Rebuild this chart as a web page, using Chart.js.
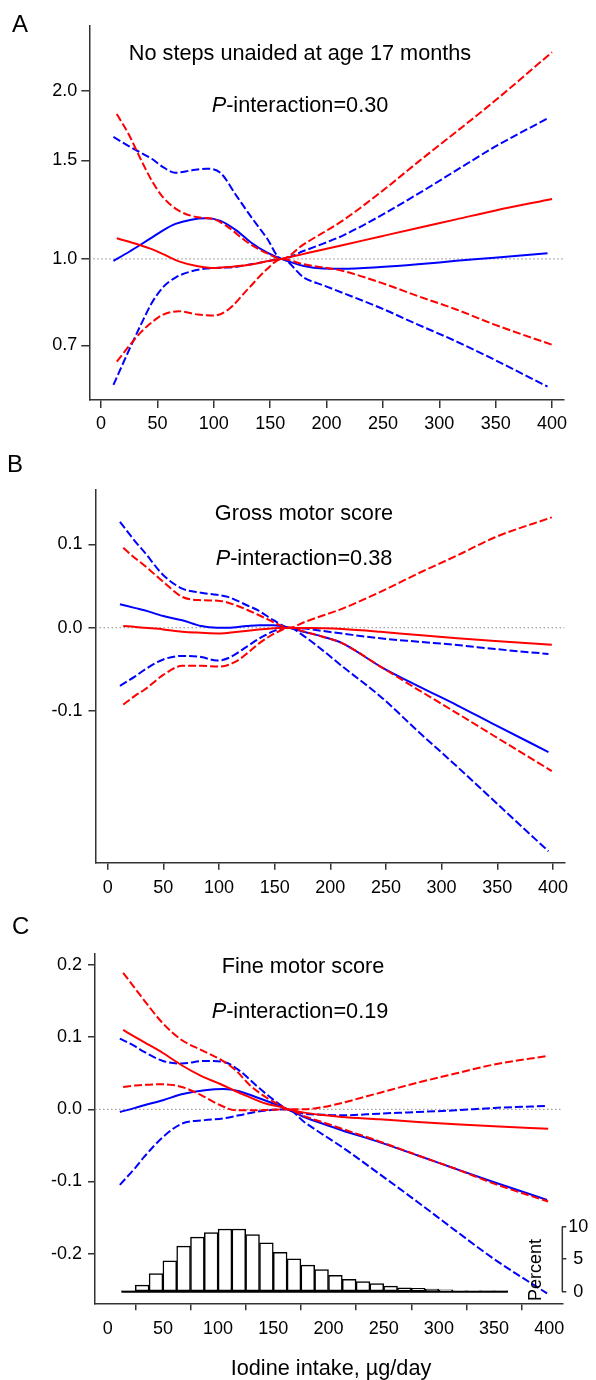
<!DOCTYPE html>
<html>
<head>
<meta charset="utf-8">
<script src="https://cdn.jsdelivr.net/npm/chart.js@4.4.0/dist/chart.umd.min.js"></script>
<style>
  body { margin: 0; background: #fff; }
  #page { position: relative; width: 596px; height: 1380px; font-family: 'Liberation Sans', Arial, sans-serif; color: #000; }
  canvas { position: absolute; left: 0; }
  .txt { position: absolute; white-space: nowrap; line-height: 1; }
  .letter { font-size: 24px; }
  .title { font-size: 21.7px; transform: translateX(-50%); }
  .percent { font-size: 18px; transform: translate(-50%, -50%) rotate(-90deg); }
</style>
</head>
<body>
<div id="page">
  <canvas id="chartA" width="596" height="440" style="top:0"></canvas>
  <canvas id="chartB" width="596" height="460" style="top:440px"></canvas>
  <canvas id="chartC" width="596" height="480" style="top:900px"></canvas>

  <div class="txt letter" style="left:12px; top:12px">A</div>
  <div class="txt title" style="left:300px; top:42px">No steps unaided at age 17 months</div>
  <div class="txt title" style="left:300px; top:94px"><i>P</i>-interaction=0.30</div>

  <div class="txt letter" style="left:7px; top:452px">B</div>
  <div class="txt title" style="left:304px; top:502px">Gross motor score</div>
  <div class="txt title" style="left:304px; top:547px"><i>P</i>-interaction=0.38</div>

  <div class="txt letter" style="left:12px; top:914px">C</div>
  <div class="txt title" style="left:303px; top:955px">Fine motor score</div>
  <div class="txt title" style="left:300px; top:1000px"><i>P</i>-interaction=0.19</div>
  <div class="txt percent" style="left:535px; top:1270px">Percent</div>
  <div class="txt title" style="left:331px; top:1357px">Iodine intake, µg/day</div>
</div>

<script>
Chart.defaults.font.family = "'Liberation Sans', Arial, sans-serif";
Chart.defaults.font.size = 18;
Chart.defaults.color = '#000';

const RED = '#ff0000';
const BLUE = '#0000ff';
const xTicks = [0, 50, 100, 150, 200, 250, 300, 350, 400];

// A: no steps unaided at 17 months (ratio, log axis)
const aTicks = [0.7, 1.0, 1.5, 2.0];
const aRedX = [14, 25, 35, 45, 55, 69, 86, 100, 113, 130, 147, 160, 180, 214, 248, 281, 315, 349, 400];
const aRedEst = [1.089, 1.073, 1.058, 1.041, 1.02, 0.99, 0.97, 0.963, 0.967, 0.975, 0.99, 1.0, 1.021, 1.058, 1.097, 1.136, 1.177, 1.22, 1.28];
const aRedLow = [0.655, 0.699, 0.738, 0.77, 0.795, 0.806, 0.795, 0.792, 0.812, 0.882, 0.958, 1.0, 0.978, 0.952, 0.907, 0.858, 0.812, 0.763, 0.702];
const aRedUpp = [1.816, 1.665, 1.511, 1.381, 1.289, 1.22, 1.187, 1.178, 1.139, 1.07, 1.024, 1.0, 1.063, 1.17, 1.316, 1.49, 1.688, 1.916, 2.344];
const aBlueX = [11, 25, 35, 45, 55, 66, 80, 93, 106, 120, 133, 147, 160, 180, 197, 214, 248, 281, 315, 349, 396];
const aBlueEst = [0.992, 1.03, 1.06, 1.092, 1.125, 1.155, 1.175, 1.182, 1.17, 1.125, 1.07, 1.027, 1.0, 0.971, 0.961, 0.96, 0.967, 0.978, 0.992, 1.005, 1.024];
const aBlueLow = [0.595, 0.688, 0.76, 0.834, 0.89, 0.926, 0.95, 0.961, 0.964, 0.968, 0.978, 0.99, 1.0, 0.926, 0.897, 0.87, 0.817, 0.763, 0.712, 0.66, 0.591];
const aBlueUpp = [1.653, 1.59, 1.55, 1.511, 1.46, 1.426, 1.44, 1.45, 1.425, 1.298, 1.19, 1.09, 1.0, 1.034, 1.065, 1.1, 1.195, 1.307, 1.44, 1.586, 1.784];

// B: gross motor score
const bTicks = [-0.1, 0.0, 0.1];
const bRedX = [14, 25, 33, 50, 67, 84, 101, 115, 126, 136, 147, 153, 163, 177, 194, 211, 245, 279, 314, 348, 399];
const bRedEst = [0.002, 0.001, 0.0, -0.002, -0.0048, -0.006, -0.0068, -0.005, -0.0035, -0.002, -0.0008, -0.0004, 0, -0.0003, -0.0006, -0.0015, -0.0048, -0.0087, -0.0125, -0.016, -0.0203];
const bRedLow = [-0.0922, -0.081, -0.0744, -0.0565, -0.0457, -0.0457, -0.0465, -0.0406, -0.03, -0.0187, -0.009, -0.0048, 0, -0.0048, -0.011, -0.0187, -0.0465, -0.0744, -0.1026, -0.1304, -0.1718];
const bRedUpp = [0.0958, 0.083, 0.0747, 0.0549, 0.037, 0.033, 0.0322, 0.027, 0.021, 0.015, 0.008, 0.004, 0, 0.007, 0.015, 0.023, 0.043, 0.0652, 0.0867, 0.1085, 0.1324];
const bBlueX = [11, 25, 33, 50, 67, 84, 98, 108, 125, 136, 142, 149, 163, 177, 194, 211, 245, 279, 314, 348, 396];
const bBlueEst = [0.0282, 0.0235, 0.021, 0.014, 0.009, 0.002, 0.0, 0.0, 0.002, 0.003, 0.003, 0.003, 0, -0.005, -0.011, -0.0187, -0.0465, -0.07, -0.093, -0.1165, -0.149];
const bBlueLow = [-0.0696, -0.058, -0.0505, -0.038, -0.0338, -0.035, -0.0394, -0.0366, -0.0227, -0.013, -0.0087, -0.004, 0, -0.0107, -0.028, -0.0465, -0.0823, -0.1244, -0.1666, -0.2087, -0.268];
const bBlueUpp = [0.127, 0.103, 0.0907, 0.063, 0.047, 0.042, 0.0395, 0.037, 0.027, 0.0203, 0.015, 0.009, 0, -0.001, -0.004, -0.007, -0.0127, -0.0167, -0.0207, -0.0255, -0.0314];

// C: fine motor score
const cTicks = [-0.2, -0.1, 0.0, 0.1, 0.2];
const cRedX = [14, 25, 33, 50, 67, 85, 102, 116, 129, 143, 157, 163, 178, 195, 212, 246, 281, 315, 350, 399];
const cRedEst = [0.11, 0.1, 0.093, 0.078, 0.061, 0.046, 0.035, 0.025, 0.0165, 0.008, 0.003, 0, -0.0046, -0.008, -0.0106, -0.0139, -0.0176, -0.0208, -0.0236, -0.0269];
const cRedLow = [0.031, 0.033, 0.034, 0.0347, 0.031, 0.0194, 0.0056, -0.0014, -0.0014, -0.001, -0.0003, 0, -0.0097, -0.018, -0.0269, -0.0444, -0.0639, -0.0824, -0.103, -0.1278];
const cRedUpp = [0.189, 0.167, 0.151, 0.119, 0.096, 0.082, 0.069, 0.054, 0.033, 0.017, 0.005, 0, 0.0, 0.003, 0.0088, 0.0227, 0.037, 0.0495, 0.062, 0.074];
const cBlueX = [11, 25, 33, 50, 67, 88, 105, 119, 136, 150, 163, 178, 195, 212, 246, 281, 315, 350, 398];
const cBlueEst = [-0.0037, 0.002, 0.0056, 0.0125, 0.0208, 0.0264, 0.028, 0.025, 0.016, 0.008, 0, -0.0106, -0.02, -0.029, -0.0454, -0.064, -0.0824, -0.101, -0.1255];
const cBlueLow = [-0.1046, -0.081, -0.066, -0.0384, -0.02, -0.015, -0.0125, -0.0083, -0.003, -0.0007, 0, -0.0176, -0.035, -0.052, -0.0894, -0.1287, -0.168, -0.2074, -0.255];
const cBlueUpp = [0.098, 0.087, 0.0796, 0.067, 0.0634, 0.067, 0.0657, 0.054, 0.031, 0.0134, 0, -0.006, -0.0075, -0.0083, -0.006, -0.0037, -0.0014, 0.0019, 0.0046];

// iodine intake distribution (percent per 12.5 µg/day bin)
const histMid = [18.75, 31.25, 43.75, 56.25, 68.75, 81.25, 93.75, 106.25, 118.75, 131.25, 143.75, 156.25, 168.75, 181.25,
  193.75, 206.25, 218.75, 231.25, 243.75, 256.25, 268.75, 281.25, 293.75, 306.25, 318.75, 331.25, 343.75, 356.25];
const histPct = [0.05, 1.0, 2.8, 4.75, 7.0, 8.4, 9.1, 9.65, 9.65, 8.8, 7.5, 6.05, 5.05, 4.1,
  3.4, 2.5, 1.9, 1.55, 1.25, 0.85, 0.6, 0.5, 0.4, 0.3, 0.15, 0.12, 0.08, 0.05];
const pctTicks = [0, 5, 10];

function pts(xs, ys) {
  return xs.map((x, i) => ({ x: x, y: ys[i] }));
}

function curve(xs, ys, color, dashed) {
  return {
    data: pts(xs, ys),
    borderColor: color,
    borderWidth: 2,
    borderDash: dashed ? [8, 3] : [],
    pointRadius: 0,
    cubicInterpolationMode: 'monotone',
    fill: false
  };
}

function refLine(v, lo, hi) {
  return {
    data: [{ x: lo, y: v }, { x: hi, y: v }],
    borderColor: '#8a8a8a',
    borderWidth: 1,
    borderDash: [1.5, 2.5],
    pointRadius: 0,
    fill: false
  };
}

function xAxis(min, max, height, tickLen, pad) {
  return {
    type: 'linear', min: min, max: max, offset: false,
    afterBuildTicks: s => { s.ticks = xTicks.map(v => ({ value: v })); },
    afterFit: s => { s.height = height; },
    border: { display: true, color: '#333', width: 1.5 },
    grid: { drawOnChartArea: false, drawTicks: true, tickLength: tickLen, color: '#333', lineWidth: 1.5 },
    ticks: { padding: pad, maxRotation: 0, autoSkip: false }
  };
}

function yAxis(type, min, max, ticks, width, tickLen, pad) {
  return {
    type: type, min: min, max: max, position: 'left',
    afterBuildTicks: s => { s.ticks = ticks.map(v => ({ value: v })); },
    afterFit: s => { s.width = width; },
    border: { display: true, color: '#333', width: 1.5 },
    grid: { drawOnChartArea: false, drawTicks: true, tickLength: tickLen, color: '#333', lineWidth: 1.5 },
    ticks: { padding: pad, autoSkip: false, callback: v => Number(v).toFixed(1) }
  };
}

const basePlugins = { legend: { display: false }, tooltip: { enabled: false } };

function curveSets(rx, rEst, rLow, rUpp, bx, bEst, bLow, bUpp) {
  return [
    curve(rx, rEst, RED, false),
    curve(rx, rUpp, RED, true),
    curve(rx, rLow, RED, true),
    curve(bx, bEst, BLUE, false),
    curve(bx, bUpp, BLUE, true),
    curve(bx, bLow, BLUE, true)
  ];
}

const chartA = new Chart(document.getElementById('chartA'), {
  type: 'line',
  data: {
    datasets: curveSets(aRedX, aRedEst, aRedLow, aRedUpp, aBlueX, aBlueEst, aBlueLow, aBlueUpp)
      .concat([refLine(1, -10.4, 410.6)])
  },
  options: {
    responsive: false, animation: false,
    layout: { padding: { left: 0, top: 26, right: 32, bottom: 0 } },
    plugins: basePlugins,
    scales: {
      x: xAxis(-10.4, 410.6, 40, 8, 5),
      y: yAxis('logarithmic', 0.5592, 2.6107, aTicks, 89.3, 8, 4)
    }
  }
});

const chartB = new Chart(document.getElementById('chartB'), {
  type: 'line',
  data: {
    datasets: curveSets(bRedX, bRedEst, bRedLow, bRedUpp, bBlueX, bBlueEst, bBlueLow, bBlueUpp)
      .concat([refLine(0, -10.96, 410.4)])
  },
  options: {
    responsive: false, animation: false,
    layout: { padding: { left: 0, top: 49.3, right: 31.5, bottom: 0 } },
    plugins: basePlugins,
    scales: {
      x: xAxis(-10.96, 410.4, 37.3, 7, 7.5),
      y: yAxis('linear', -0.2817, 0.166, bTicks, 95.5, 7, 6)
    }
  }
});

// short 0-10 percent axis line next to the histogram
const percentAxisLine = {
  id: 'percentAxisLine',
  afterDraw(chart) {
    const s = chart.scales.y2;
    const ctx = chart.ctx;
    ctx.save();
    ctx.strokeStyle = '#333';
    ctx.lineWidth = 1.5;
    ctx.beginPath();
    ctx.moveTo(s.left, s.getPixelForValue(0));
    ctx.lineTo(s.left, s.getPixelForValue(10));
    ctx.stroke();
    ctx.restore();
  }
};

const chartC = new Chart(document.getElementById('chartC'), {
  type: 'line',
  data: {
    datasets: curveSets(cRedX, cRedEst, cRedLow, cRedUpp, cBlueX, cBlueEst, cBlueLow, cBlueUpp)
      .concat([
        refLine(0, -11.5, 411.8),
        {
          data: [{ x: 12.5, y: 0 }, { x: 362.5, y: 0 }],
          yAxisID: 'y2',
          borderColor: '#000',
          borderWidth: 2,
          pointRadius: 0
        },
        {
          type: 'bar',
          data: pts(histMid, histPct),
          yAxisID: 'y2',
          backgroundColor: '#fff',
          borderColor: '#000',
          borderWidth: 1.5,
          borderSkipped: false,
          barPercentage: 1,
          categoryPercentage: 1
        }
      ])
  },
  options: {
    responsive: false, animation: false,
    layout: { padding: { left: 0, top: 54, right: 0, bottom: 0 } },
    plugins: basePlugins,
    scales: {
      x: xAxis(-11.5, 411.8, 76.7, 7, 7.5),
      y: yAxis('linear', -0.2687, 0.2151, cTicks, 95, 7, 6),
      y2: {
        type: 'linear', position: 'right', min: -1.785, max: 51.95,
        afterBuildTicks: s => { s.ticks = pctTicks.map(v => ({ value: v })); },
        afterFit: s => { s.width = 33.7; },
        border: { display: false },
        grid: { drawOnChartArea: false, drawTicks: true, tickLength: 4, color: '#333', lineWidth: 1.5 },
        ticks: { padding: 2, crossAlign: 'center', autoSkip: false }
      }
    }
  },
  plugins: [percentAxisLine]
});
</script>
</body>
</html>
